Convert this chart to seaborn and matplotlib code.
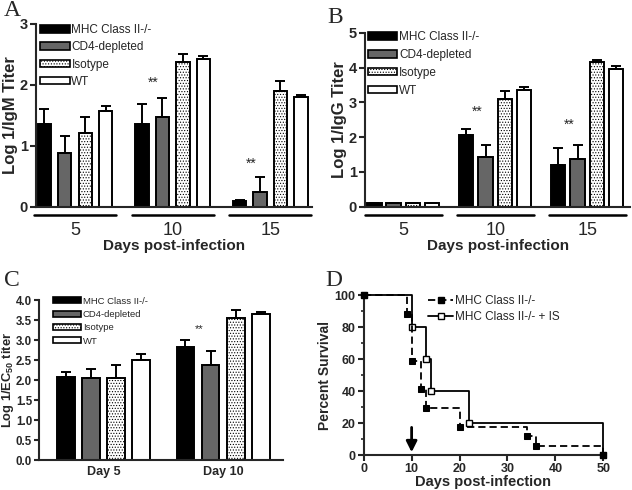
import matplotlib
matplotlib.use("Agg")
import matplotlib.pyplot as plt
import matplotlib.transforms as mtransforms
from matplotlib.patches import Patch
from matplotlib.lines import Line2D
import seaborn as sns
import numpy as np
import pandas as pd

sns.set_style("ticks")
plt.rcParams["font.family"] = ["Liberation Sans", "DejaVu Sans"]
plt.rcParams["mathtext.fontset"] = "custom"
plt.rcParams["mathtext.rm"] = "Liberation Sans"
plt.rcParams["mathtext.bf"] = "Liberation Sans:bold"
plt.rcParams["hatch.linewidth"] = 0.5
plt.rcParams["hatch.color"] = "#555555"

# groups / legend labels
groups = ["MHC Class II-/-", "CD4-depleted", "Isotype", "WT"]
colors = ["black", "#666666", "white", "white"]

# Panel A: IgM titers (days 5, 10, 15)
days_ab = ["5", "10", "15"]
igm_mhc = [1.36, 1.36, 0.09]
igm_cd4 = [0.89, 1.48, 0.25]
igm_iso = [1.21, 2.38, 1.90]
igm_wt = [1.58, 2.43, 1.81]
igm_mhc_err = [0.25, 0.33, 0.02]
igm_cd4_err = [0.28, 0.30, 0.24]
igm_iso_err = [0.27, 0.13, 0.17]
igm_wt_err = [0.08, 0.04, 0.02]

# Panel B: IgG titers
igg_mhc = [0.10, 2.07, 1.20]
igg_cd4 = [0.10, 1.42, 1.37]
igg_iso = [0.10, 3.11, 4.15]
igg_wt = [0.10, 3.37, 3.96]
igg_mhc_err = [0.0, 0.17, 0.48]
igg_cd4_err = [0.0, 0.35, 0.42]
igg_iso_err = [0.0, 0.23, 0.06]
igg_wt_err = [0.0, 0.07, 0.09]

# Panel C: EC50 titers
days_c = ["Day 5", "Day 10"]
ec_mhc = [2.07, 2.83]
ec_cd4 = [2.04, 2.37]
ec_iso = [2.05, 3.54]
ec_wt = [2.50, 3.65]
ec_mhc_err = [0.13, 0.18]
ec_cd4_err = [0.23, 0.35]
ec_iso_err = [0.32, 0.21]
ec_wt_err = [0.16, 0.05]

# Panel D: survival
mhc_days = [0, 9, 10, 12, 13, 20, 34, 36, 50]
mhc_surv = [100, 88.2, 58.8, 41.2, 29.4, 17.6, 11.8, 5.9, 0]
is_days = [0, 10, 13, 14, 22, 50]
is_surv = [100, 80, 60, 40, 20, 0]
arrow_day = 10

# significance stars (group index, y)
stars_a = [(1, 2.03), (2, 0.71)]
stars_b = [(1, 2.73), (2, 2.35)]
stars_c = [(1, 3.28)]


def make_df(days, vals):
    rows = []
    for g, v in zip(groups, vals):
        for d, y in zip(days, v):
            rows.append({"day": d, "group": g, "value": y})
    return pd.DataFrame(rows)


def bar_panel(ax, days, vals, errs, gap):
    df = make_df(days, vals)
    sns.barplot(data=df, x="day", y="value", hue="group", order=days,
                hue_order=groups, palette=dict(zip(groups, colors)),
                edgecolor="black", linewidth=1.4, width=0.84, gap=gap,
                errorbar=None, legend=False, ax=ax)
    for cont, err in zip(ax.containers, errs):
        xs = [b.get_x() + b.get_width() / 2 for b in cont]
        ys = [b.get_height() for b in cont]
        ax.errorbar(xs, ys, yerr=[np.zeros(len(err)), err], fmt="none",
                    ecolor="black", elinewidth=1.4, capsize=3.5, capthick=1.4)
    for b in ax.containers[2]:
        b.set_hatch("......")
    sns.despine(ax=ax)
    ax.spines["left"].set_linewidth(1.5)
    ax.spines["bottom"].set_linewidth(1.5)
    ax.tick_params(axis="y", width=1.5, length=4, pad=2)


def bar_legend(ax, fs, anchor, hl, hh, ls):
    handles = [Patch(facecolor=c, edgecolor="black", linewidth=1.2,
                     hatch="......" if g == "Isotype" else None)
               for g, c in zip(groups, colors)]
    ax.legend(handles, groups, loc="upper left", bbox_to_anchor=anchor,
              frameon=False, fontsize=fs, handlelength=hl, handleheight=hh,
              handletextpad=0.15, labelspacing=ls, borderpad=0, borderaxespad=0)


def group_lines(ax, n):
    trans = mtransforms.blended_transform_factory(ax.transData, ax.transAxes)
    for i in range(n):
        ax.plot([i - 0.42, i + 0.42], [-0.045, -0.045], color="black", lw=1.8,
                transform=trans, clip_on=False)


fig = plt.figure(figsize=(6.32, 4.90), dpi=100)
axA = fig.add_axes([0.057, 0.5776, 0.437, 0.3735])
axB = fig.add_axes([0.5775, 0.578, 0.42, 0.355])
axC = fig.add_axes([0.0617, 0.0612, 0.386, 0.3265])
axD = fig.add_axes([0.5755, 0.0714, 0.379, 0.3265])

# ---- A ----
bar_panel(axA, days_ab, [igm_mhc, igm_cd4, igm_iso, igm_wt],
          [igm_mhc_err, igm_cd4_err, igm_iso_err, igm_wt_err], 0.35)
axA.set_ylim(0, 3)
axA.set_yticks([0, 1, 2, 3])
axA.set_yticklabels(["0", "1", "2", "3"], fontweight="bold", fontsize=10.5)
axA.set_xlim(-0.4, 2.43)
axA.tick_params(axis="x", length=0, pad=11, labelsize=13)
axA.set_xlabel("Days post-infection", fontweight="bold", fontsize=11, labelpad=0)
axA.set_ylabel("Log 1/IgM Titer", fontweight="bold", fontsize=12, labelpad=1)
group_lines(axA, 3)
bar_legend(axA, 8.5, (0.015, 1.0), 2.5, 0.6, 0.45)
for gx, gy in stars_a:
    axA.text(gx - 0.2, gy, "**", ha="center", va="center", fontsize=10)

# ---- B ----
bar_panel(axB, days_ab, [igg_mhc, igg_cd4, igg_iso, igg_wt],
          [igg_mhc_err, igg_cd4_err, igg_iso_err, igg_wt_err], 0.25)
axB.set_ylim(0, 5)
axB.set_yticks([0, 1, 2, 3, 4, 5])
axB.set_yticklabels(["0", "1", "2", "3", "4", "5"], fontweight="bold", fontsize=10.5)
axB.set_xlim(-0.416, 2.47)
axB.tick_params(axis="x", length=0, pad=11, labelsize=13)
axB.set_xlabel("Days post-infection", fontweight="bold", fontsize=11, labelpad=0)
axB.set_ylabel("Log 1/IgG Titer", fontweight="bold", fontsize=12, labelpad=1)
group_lines(axB, 3)
bar_legend(axB, 8.5, (0.01, 1.01), 2.5, 0.6, 0.5)
for gx, gy in stars_b:
    axB.text(gx - 0.2, gy, "**", ha="center", va="center", fontsize=10)

# ---- C ----
bar_panel(axC, days_c, [ec_mhc, ec_cd4, ec_iso, ec_wt],
          [ec_mhc_err, ec_cd4_err, ec_iso_err, ec_wt_err], 0.3)
axC.set_ylim(0, 4)
axC.set_yticks(np.arange(0, 4.01, 0.5))
axC.set_yticklabels([f"{v:.1f}" for v in np.arange(0, 4.01, 0.5)],
                    fontweight="bold", fontsize=8.3)
axC.tick_params(axis="y", pad=1.5, length=3.5)
axC.set_xlim(-0.54, 1.5)
axC.tick_params(axis="x", length=0, pad=4)
for t in axC.get_xticklabels():
    t.set_fontweight("bold")
    t.set_fontsize(9)
axC.set_xlabel("")
axC.set_ylabel(r"Log 1/EC$_{\mathbf{50}}$ titer", fontweight="bold", fontsize=9.3, labelpad=0)
bar_legend(axC, 6.8, (0.057, 1.02), 3.0, 0.6, 0.45)
for gx, gy in stars_c:
    axC.text(gx - 0.2, gy, "**", ha="center", va="center", fontsize=8)

# ---- D ----
dfm = pd.DataFrame({"day": mhc_days, "surv": mhc_surv})
dfi = pd.DataFrame({"day": is_days, "surv": is_surv})
sns.lineplot(data=dfi, x="day", y="surv", ax=axD, color="black", lw=1.3,
             drawstyle="steps-post", marker="s", markersize=5,
             markerfacecolor="white", markeredgecolor="black", markeredgewidth=1,
             clip_on=False, zorder=3)
sns.lineplot(data=dfm, x="day", y="surv", ax=axD, color="black", lw=1.3,
             linestyle=(0, (4, 2.2)), drawstyle="steps-post", marker="s",
             markersize=4.5, markerfacecolor="black", markeredgecolor="black",
             clip_on=False, zorder=4)
axD.annotate("", xy=(arrow_day, 0), xytext=(arrow_day, 19),
             arrowprops=dict(arrowstyle="-|>", color="black", lw=2, mutation_scale=16))
axD.set_xlim(0, 50)
axD.set_ylim(0, 100)
axD.set_xticks(range(0, 51, 10))
axD.set_yticks(range(0, 101, 20))
axD.set_yticks(range(10, 100, 20), minor=True)
sns.despine(ax=axD)
axD.spines["left"].set_linewidth(1.5)
axD.spines["bottom"].set_linewidth(1.5)
axD.tick_params(which="major", width=1.5, length=4, labelsize=9, pad=2)
axD.tick_params(which="minor", width=1.2, length=2.5)
for t in axD.get_xticklabels() + axD.get_yticklabels():
    t.set_fontweight("bold")
axD.set_xlabel("Days post-infection", fontweight="bold", fontsize=10.5, labelpad=0)
axD.set_ylabel("Percent Survival", fontweight="bold", fontsize=10, labelpad=2)
hd = [Line2D([], [], color="black", lw=1.3, ls=(0, (4, 2.2)), marker="s", ms=4.5,
             mfc="black", mec="black"),
      Line2D([], [], color="black", lw=1.3, marker="s", ms=5, mfc="white", mec="black")]
axD.legend(hd, ["MHC Class II-/-", "MHC Class II-/- + IS"], loc="upper left",
           bbox_to_anchor=(0.27, 1.0), frameon=False, fontsize=8.5, handlelength=2.1,
           handletextpad=0.15, labelspacing=0.35, borderpad=0, borderaxespad=0)

# panel letters
for x, y, s in [(0.006, 1.0, "A"), (0.518, 0.985, "B"), (0.006, 0.448, "C"), (0.515, 0.448, "D")]:
    fig.text(x, y, s, fontsize=17, family="Liberation Serif", va="top", ha="left")

fig.savefig("out.png", dpi=100)
